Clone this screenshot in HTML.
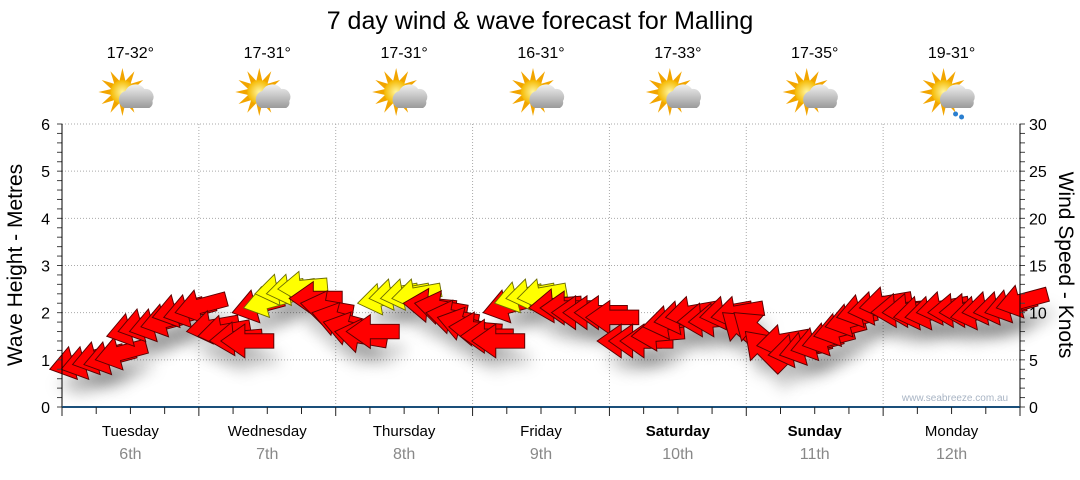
<!DOCTYPE html>
<html><head><meta charset="utf-8"><style>
body{margin:0;background:#fff;width:1080px;height:475px;overflow:hidden;font-family:"Liberation Sans",sans-serif}
</style></head><body>
<svg id="c" width="1080" height="475" xmlns="http://www.w3.org/2000/svg">
<defs>
<filter id="sh" x="-50%" y="-50%" width="200%" height="250%"><feGaussianBlur stdDeviation="6"/></filter>
<radialGradient id="sun" cx="50%" cy="50%" r="50%"><stop offset="0" stop-color="#fff6a0"/><stop offset="1" stop-color="#f5b800"/></radialGradient>
<linearGradient id="cloud" x1="0" y1="0" x2="0" y2="1"><stop offset="0" stop-color="#f0f0f0"/><stop offset="1" stop-color="#9a9a9a"/></linearGradient>
</defs>
<text x="540" y="29" font-size="25" text-anchor="middle" fill="#000">7 day wind &amp; wave forecast for Malling</text>
<g id="grid"></g>
<g id="shadows"></g>
<g id="arrows"></g>
<g id="axes"></g>
<text x="955" y="401" font-size="10" fill="#a8b4c4" text-anchor="middle">www.seabreeze.com.au</text>
<text transform="translate(22,265) rotate(-90)" font-size="21" text-anchor="middle">Wave Height - Metres</text>
<text transform="translate(1059,265) rotate(90)" font-size="21" text-anchor="middle">Wind Speed - Knots</text>
</svg>
<script>
const days=["Tuesday","Wednesday","Thursday","Friday","Saturday","Sunday","Monday"];
const dates=["6th","7th","8th","9th","10th","11th","12th"];
const boldDays=[false,false,false,false,true,true,false];
const temps=["17-32°","17-31°","17-31°","16-31°","17-33°","17-35°","19-31°"];
const rainy=[false,false,false,false,false,false,true];
const waveTicks=[0,1,2,3,4,5,6];
const windTicks=[0,5,10,15,20,25,30];
// wave height (m), 2-hourly
const waves=[0.8,0.8,0.9,0.9,1.0,1.5,1.6,1.6,1.7,1.9,1.9,2.0,
1.6,1.5,1.4,1.4,2.0,2.1,2.4,2.4,2.5,2.3,2.2,2.0,
1.8,1.6,1.6,2.2,2.3,2.3,2.3,2.2,2.2,2.0,1.9,1.7,
1.5,1.4,2.0,2.2,2.3,2.3,2.1,2.1,2.0,2.0,2.0,1.9,
1.4,1.4,1.4,1.5,1.7,1.8,1.9,1.8,1.8,1.9,1.9,2.0,
2.0,1.6,1.3,1.1,1.1,1.2,1.3,1.5,1.7,1.9,2.0,2.1,
2.0,2.0,1.9,1.9,2.0,2.0,2.0,1.9,2.0,2.0,2.0,2.1];
// wind direction rotation (deg, 0 = arrow points left, negative = tail raised)
const dirs=[-15,-15,-15,-15,-15,-15,-15,-15,-15,-15,-15,-15,
-10,-10,-5,0,-15,-15,-10,-10,-5,0,10,15,
15,10,0,-10,-10,-10,-10,5,10,10,15,5,
0,0,-15,-15,-10,-10,-5,0,0,0,0,0,
0,0,0,-5,-10,-10,-10,-5,-5,-10,-10,40,
40,45,-10,-10,-15,-15,-15,-15,-15,-15,-10,-10,
-5,-5,-10,-10,-10,-5,-5,-10,-10,-10,-15,-15];
// wind speed (knots)
const speeds=[11,11,11,11,11,11,11,11,11,11,11,11,
11,11,11,11,11,8,8,8,8,11,11,11,
11,11,11,8,8,8,8,11,11,11,11,11,
11,11,11,8,8,8,11,11,11,11,11,11,
11,11,11,11,11,11,11,11,11,11,11,11,
11,11,11,11,11,11,11,11,11,11,11,11,
11,11,11,11,11,11,11,11,11,11,11,11];
const X0=62,X1=1020,Y0=407,Y1=124;
const PER=12;
const dayW=(X1-X0)/7;
const xAt=i=>X0+(i+0.5)*dayW/PER;
const yW=v=>Y0-v*(Y0-Y1)/6;
const yK=v=>Y0-v*(Y0-Y1)/30;
const NS="http://www.w3.org/2000/svg";
function mk(tag,attrs,parent,txt){const e=document.createElementNS(NS,tag);for(const k in attrs)e.setAttribute(k,attrs[k]);if(txt!==undefined)e.textContent=txt;parent.appendChild(e);return e;}
const grid=document.getElementById('grid'),axes=document.getElementById('axes'),svg=document.getElementById('c');
waveTicks.forEach(v=>{if(v>0){const l=mk('line',{x1:X0,x2:X1,y1:yW(v),y2:yW(v),stroke:'#aaa','stroke-dasharray':'1,2'},grid);}
const t=mk('text',{x:50,y:yW(v)+6,'font-size':16,'text-anchor':'end'},axes,v);});
windTicks.forEach(v=>{const t=mk('text',{x:1029,y:yK(v)+6,'font-size':16},axes,v);});
for(let v=0;v<=6.001;v+=0.2){const y=yW(v);mk('line',{x1:X0-5,x2:X0,y1:y,y2:y,stroke:'#444'},axes);mk('line',{x1:X1,x2:X1+5,y1:y,y2:y,stroke:'#444'},axes);}
mk('line',{x1:X0,x2:X0,y1:Y1,y2:Y0,stroke:'#000'},axes);
mk('line',{x1:X1,x2:X1,y1:Y1,y2:Y0,stroke:'#000'},axes);
mk('line',{x1:X0,x2:X1,y1:Y0,y2:Y0,stroke:'#1a4f7a','stroke-width':2},axes);
for(let i=0;i<=28;i++){const x=X0+i*dayW/4;if(i%4==0&&i>0&&i<28){mk('line',{x1:x,x2:x,y1:Y1,y2:Y0,stroke:'#aaa','stroke-dasharray':'1,2'},grid);}
mk('line',{x1:x,x2:x,y1:Y0,y2:Y0+(i%4==0?9:7),stroke:'#222'},axes);}
days.forEach((d,i)=>{const cx=X0+(i+0.5)*dayW;
const t=mk('text',{x:cx,y:436,'font-size':15,'text-anchor':'middle','font-weight':boldDays[i]?'bold':'normal'},svg,d);
const t2=mk('text',{x:cx,y:459,'font-size':16,'text-anchor':'middle',fill:'#888'},svg,dates[i]);
const t3=mk('text',{x:cx,y:58,'font-size':16,'text-anchor':'middle'},svg,temps[i]);
const g=mk('g',{transform:`translate(${cx},95)`},svg);
for(let a=0;a<360;a+=30){mk('polygon',{points:'-3,-11 3,-11 0,-24',fill:'#f2a500',transform:`translate(-8,-3) rotate(${a})`},g);}
mk('circle',{cx:-8,cy:-3,r:12,fill:'url(#sun)'},g);
mk('path',{d:'M-6,13 a9,9 0 0 1 1,-17 a11,11 0 0 1 19,-2 a8,8 0 0 1 8,12 a6,6 0 0 1 -3,7 z',fill:'url(#cloud)'},g);
if(rainy[i]){mk('circle',{cx:4,cy:19,r:2.5,fill:'#2a7fd0'},g);mk('circle',{cx:10,cy:22,r:2.5,fill:'#2a7fd0'},g);}
});
const sh=document.getElementById('shadows'),ar=document.getElementById('arrows');
const shape='M0,0 L20,-14 L20,-6 L44,-6 L44,6 L20,6 L20,14 Z';
waves.forEach((v,i)=>{const x=xAt(i)-18,y=yW(v);const s=0.93+speeds[i]/40;
const tr=`translate(${x},${y}) rotate(${dirs[i]}) scale(${s})`;
mk('path',{d:shape,fill:'#000','fill-opacity':0.14,filter:'url(#sh)',transform:`translate(${x+6},${y+18}) rotate(${dirs[i]}) scale(${s})`},sh);
const yel=speeds[i]<10;
const p=mk('path',{d:shape,fill:yel?'#ffff00':'#ff0000',stroke:yel?'#6b6b00':'#5a0000','stroke-width':0.8,transform:tr},ar);

});
</script>
</body></html>
